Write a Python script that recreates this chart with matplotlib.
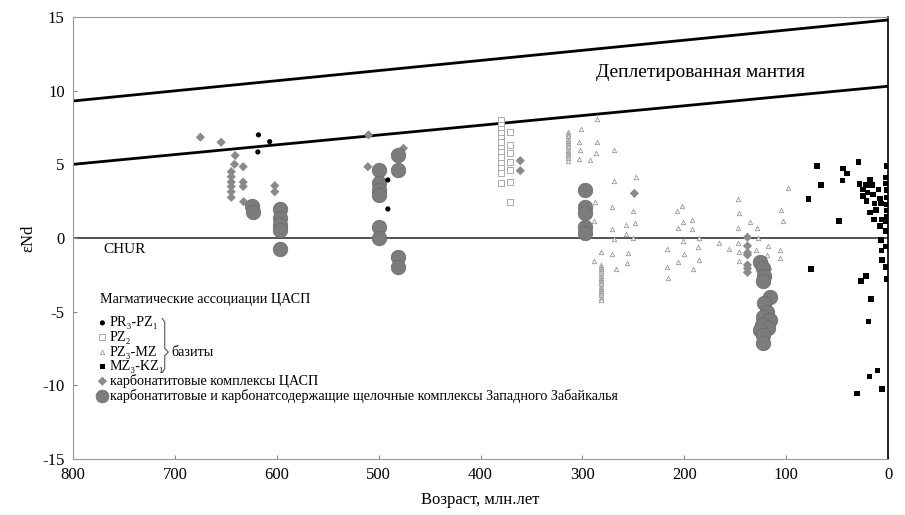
import matplotlib
matplotlib.use("Agg")
from matplotlib import pyplot as plt

plt.rcParams['font.family'] = ['Liberation Serif', 'DejaVu Serif']
plt.rcParams['axes.unicode_minus'] = False

# depleted mantle band (two lines) and CHUR
dm_age = [800, 0]
dm_upper = [9.3, 14.8]
dm_lower = [5.0, 10.3]

# PR3-PZ1 basites (black dots)
pr_age = [618, 607, 618.6, 491, 491]
pr_end = [7.0, 6.54, 5.84, 3.94, 1.97]

# PZ2 basites (open squares)
pz2_age = [380] * 13 + [371] * 7
pz2_end = [8.0, 7.67, 7.38, 7.1, 6.8, 6.5, 6.13, 5.86, 5.52, 5.1, 4.77, 4.39, 3.7,
           7.17, 6.3, 5.75, 5.18, 4.62, 3.82, 2.46]

# PZ3-MZ basites (small open triangles)
pz3_age = [285.8, 301.5, 303, 286, 302, 287, 303.5, 293, 269.5, 269, 247, 288, 271,
           250.5, 289, 271, 257, 248, 257, 269.5, 250, 281.6, 271, 255, 289, 256, 267,
           97.8, 202.5, 207.5, 201, 192.6, 206.4, 192.6, 147, 146, 135.4, 147, 129,
           105, 103.6, 201, 186, 217, 200, 186.7, 206.4, 186, 217, 191, 216, 166,
           155.7, 147.5, 146, 146, 130, 128, 118, 118.4, 116.4, 106, 106,
           314.6, 314.6, 314.6, 314.6, 314.6, 314.6, 314.6, 314.6, 314.6, 314.6,
           314.6, 314.6, 314.6, 314.6,
           282, 282, 282, 282, 282, 282, 282, 282, 282, 282, 282, 282, 282, 282,
           282, 282, 282]
pz3_end = [8.06, 7.4, 6.5, 6.5, 5.97, 5.8, 5.34, 5.27, 6.0, 3.87, 4.16, 2.47, 2.08,
           1.83, 1.15, 0.59, 0.88, 1.04, 0.27, -0.09, 0.02, -0.93, -1.09, -1.0, -1.54,
           -1.72, -2.08,
           3.37, 2.19, 1.86, 1.11, 1.22, 0.66, 0.61, 2.65, 1.72, 1.11, 0.66, 0.66,
           1.9, 1.15, -0.2, -0.02, -0.77, -1.1, -0.63, -1.6, -1.5, -2.0, -2.1, -2.7,
           -0.32, -0.77, -0.32, -0.97, -1.54, -0.81, -0.02, -0.52, -1.15, -1.95,
           -0.81, -1.34,
           7.2, 7.05, 6.9, 6.75, 6.6, 6.45, 6.3, 6.15, 6.0, 5.85, 5.7, 5.55, 5.4, 5.25,
           -1.8, -1.95, -2.1, -2.25, -2.4, -2.55, -2.7, -2.85, -3.0, -3.15, -3.3,
           -3.45, -3.6, -3.75, -3.9, -4.05, -4.2]

# MZ3-KZ1 basites (black squares)
mz_age = [70, 44.5, 40.5, 29, 1.3, 66, 44.8, 78, 48, 28, 17.7, 21.6, 16, 24.8, 9.5,
          2.3, 2.3, 1.3, 20, 15, 24.8, 7.9, 1.3, 21, 13.4, 7, 1.3, 11.8, 17.7, 1.3,
          1.3, 13.7, 6.2, 7.9, 2, 2,
          7.2, 2, 6.6, 6.2, 2.3, 1.3, 75.5, 26.8, 21.6, 17, 19.3, 10.5, 18.4, 5.9, 30.7]
mz_end = [4.89, 4.73, 4.39, 5.14, 4.89, 3.6, 3.9, 2.63, 1.17, 3.67, 3.98, 3.6, 3.6,
          3.3, 3.3, 3.7, 4.1, 3.26, 3.08, 2.96, 2.85, 2.69, 2.74, 2.51, 2.35, 2.35,
          2.28, 1.9, 1.72, 1.86, 1.45, 1.27, 1.27, 0.81, 1.11, 0.48,
          -0.14, -0.59, -0.86, -1.49, -1.95, -2.78, -2.1, -2.92, -2.58, -4.14, -5.66,
          -9.0, -9.4, -10.25, -10.55]

# carbonatite complexes of CAFB (grey diamonds)
cc_age = [675, 654.6, 640.8, 641.5, 644.7, 644.7, 644.7, 644.7, 644.7, 644.7, 633,
          633, 633, 632.6, 602, 602, 510, 475.7, 510.6, 361, 361, 249,
          138, 138, 138, 138, 138, 138, 138]
cc_end = [6.84, 6.5, 5.6, 5.0, 4.5, 4.16, 3.8, 3.5, 3.14, 2.76, 4.84, 3.8, 3.5, 2.47,
          3.55, 3.14, 7.0, 6.09, 4.84, 5.25, 4.57, 3.03,
          0.05, -0.54, -1.0, -1.15, -1.83, -2.06, -2.33]

# carbonatite and carbonate-bearing alkaline complexes of W. Transbaikalia
zb_age = [624.4, 623.8, 596.7, 596.7, 596.7, 596.7, 596.7,
          480.6, 480.6, 500, 500, 500, 500, 500, 500, 480.6, 480.6,
          297.3, 297.3, 297.3, 297.3, 297.3,
          125.6, 122.3, 121.7, 122.3, 115.8, 121.7, 119, 123, 115.8, 124, 117.4,
          125.6, 122.3, 122.3]
zb_end = [2.17, 1.79, 1.95, 1.34, 0.88, 0.54, -0.77,
          5.63, 4.6, 4.6, 3.7, 3.26, 2.92, 0.77, 0.0, -1.27, -1.95,
          3.26, 2.13, 1.68, 0.77, 0.32,
          -1.6, -2.06, -2.6, -2.95, -3.98, -4.43, -5.0, -5.34, -5.57, -5.9, -6.13,
          -6.25, -6.58, -7.1]

legend_title = "Магматические ассоциации ЦАСП"
legend_labels = ["PR₃-PZ₁", "PZ₂", "PZ₃-MZ", "MZ₃-KZ₁",
                 "карбонатитовые комплексы ЦАСП",
                 "карбонатитовые и карбонатсодержащие щелочные комплексы Западного Забайкалья"]

fig = plt.figure(figsize=(9.05, 5.15), dpi=100)
ax = fig.add_axes([0.0807, 0.1087, 0.9006, 0.8583])

ax.plot(dm_age, dm_upper, color='black', lw=2.0, zorder=2)
ax.plot(dm_age, dm_lower, color='black', lw=2.0, zorder=2)
ax.axhline(0, color='#444444', lw=1.3, zorder=1)

styles = [
    dict(marker='o', s=14, c='black', edgecolors='none'),
    dict(marker='s', s=16, facecolors='white', edgecolors='#aaaaaa', linewidths=0.7),
    dict(marker='^', s=10, facecolors='white', edgecolors='#999999', linewidths=0.6),
    dict(marker='s', s=16, c='black', edgecolors='none'),
    dict(marker='D', s=22, c='#8a8a8a', edgecolors='none'),
    dict(marker='o', s=110, c='#7c7c7c', edgecolors='#6a6a6a', linewidths=0.5),
]
series = [(pr_age, pr_end), (pz2_age, pz2_end), (pz3_age, pz3_end),
          (mz_age, mz_end), (cc_age, cc_end), (zb_age, zb_end)]
for (xs, ys), st, z in zip(series, styles, [5, 3, 3, 5, 4, 4]):
    ax.scatter(xs, ys, zorder=z, **st)

ax.set_xlim(800, 0)
ax.set_ylim(-15, 15)
ax.set_xticks(range(800, -1, -100))
ax.set_yticks(range(-15, 16, 5))
ax.tick_params(direction='in', length=3, color='#888888', labelsize=12, pad=6)
for side in ['left', 'bottom', 'top']:
    ax.spines[side].set_color('#999999')
    ax.spines[side].set_linewidth(0.8)
ax.spines['right'].set_color('black')
ax.spines['right'].set_linewidth(1.2)

ax.set_xlabel("Возраст, млн.лет", fontsize=12, labelpad=6)
ax.set_ylabel("εNd", fontsize=12, labelpad=4)

ax.text(287, 11.2, "Деплетированная мантия", fontsize=14, va='center', ha='left')
ax.text(770, -0.8, "CHUR", fontsize=11, va='center', ha='left')

# hand-made legend in axes fraction
tr = ax.transAxes
fs = 10.2
ax.text(0.033, 0.36, legend_title, transform=tr, fontsize=fs, va='center')
rows_y = [0.308, 0.275, 0.242, 0.209, 0.176, 0.143]
leg_sizes = [14, 16, 10, 16, 22, 85]
for yy, lab, st, sz in zip(rows_y, legend_labels, styles, leg_sizes):
    st2 = dict(st)
    st2['s'] = sz
    ax.scatter([0.036], [yy], transform=tr, clip_on=False, zorder=6, **st2)
    ax.text(0.045, yy, lab, transform=tr, fontsize=fs, va='center')

# curly brace grouping the basite rows
brace_x = [0.1095, 0.1125, 0.1125, 0.117, 0.1125, 0.1125, 0.1095]
brace_y = [0.318, 0.31, 0.25, 0.242, 0.234, 0.204, 0.196]
ax.plot(brace_x, brace_y, transform=tr, color='#555555', lw=0.8, clip_on=False)
ax.text(0.121, 0.242, "базиты", transform=tr, fontsize=fs, va='center')

fig.savefig("out.png", dpi=100)
